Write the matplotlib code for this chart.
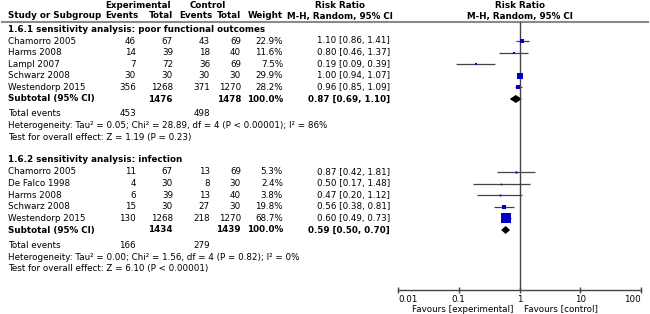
import matplotlib
matplotlib.use("Agg")
import matplotlib.pyplot as plt

# ---- data ----
sub_titles = ["1.6.1 sensitivity analysis: poor functional outcomes",
              "1.6.2 sensitivity analysis: infection"]

g1_study = ["Chamorro 2005", "Harms 2008", "Lampl 2007", "Schwarz 2008", "Westendorp 2015"]
g1_exp_events = [46, 14, 7, 30, 356]
g1_exp_total = [67, 39, 72, 30, 1268]
g1_ctl_events = [43, 18, 36, 30, 371]
g1_ctl_total = [69, 40, 69, 30, 1270]
g1_weight = [22.9, 11.6, 7.5, 29.9, 28.2]
g1_rr = [1.10, 0.80, 0.19, 1.00, 0.96]
g1_lo = [0.86, 0.46, 0.09, 0.94, 0.85]
g1_hi = [1.41, 1.37, 0.39, 1.07, 1.09]
g1_sub = dict(exp_total=1476, ctl_total=1478, rr=0.87, lo=0.69, hi=1.10,
              exp_events=453, ctl_events=498)
g1_het = "Heterogeneity: Tau² = 0.05; Chi² = 28.89, df = 4 (P < 0.00001); I² = 86%"
g1_test = "Test for overall effect: Z = 1.19 (P = 0.23)"

g2_study = ["Chamorro 2005", "De Falco 1998", "Harms 2008", "Schwarz 2008", "Westendorp 2015"]
g2_exp_events = [11, 4, 6, 15, 130]
g2_exp_total = [67, 30, 39, 30, 1268]
g2_ctl_events = [13, 8, 13, 27, 218]
g2_ctl_total = [69, 30, 40, 30, 1270]
g2_weight = [5.3, 2.4, 3.8, 19.8, 68.7]
g2_rr = [0.87, 0.50, 0.47, 0.56, 0.60]
g2_lo = [0.42, 0.17, 0.20, 0.38, 0.49]
g2_hi = [1.81, 1.48, 1.12, 0.81, 0.73]
g2_sub = dict(exp_total=1434, ctl_total=1439, rr=0.59, lo=0.50, hi=0.70,
              exp_events=166, ctl_events=279)
g2_het = "Heterogeneity: Tau² = 0.00; Chi² = 1.56, df = 4 (P = 0.82); I² = 0%"
g2_test = "Test for overall effect: Z = 6.10 (P < 0.00001)"

axis_ticks = [0.01, 0.1, 1, 10, 100]
axis_labels = ["0.01", "0.1", "1", "10", "100"]

groups = [
    (g1_study, g1_exp_events, g1_exp_total, g1_ctl_events, g1_ctl_total,
     g1_weight, g1_rr, g1_lo, g1_hi, g1_sub, g1_het, g1_test),
    (g2_study, g2_exp_events, g2_exp_total, g2_ctl_events, g2_ctl_total,
     g2_weight, g2_rr, g2_lo, g2_hi, g2_sub, g2_het, g2_test),
]

# ---- layout (pixel coordinates of a 650x314 canvas) ----
plt.rcParams["font.family"] = ["DejaVu Sans"]
FS = 6.3
W, H = 650, 314
BLUE = "#0000c8"
LINE = "#444444"

X_NAME, X_EEV, X_ETOT, X_CEV, X_CTOT, X_WT, X_RR = 8, 136, 173, 210, 241, 283, 390
AX_L, AX_R, AX_TOP, AX_BOT = 398, 641, 21.5, 290
GROUP_TOP = [29, 160]
PITCH = 11.6

fig = plt.figure(figsize=(W / 100, H / 100), dpi=100)
tab = fig.add_axes([0, 0, 1, 1])
tab.set_xlim(0, W)
tab.set_ylim(H, 0)
tab.axis("off")

fa = fig.add_axes([AX_L / W, (H - AX_BOT) / H, (AX_R - AX_L) / W, (AX_BOT - AX_TOP) / H])
fa.set_xscale("log")
fa.set_xlim(0.01, 100)
fa.set_ylim(AX_BOT, AX_TOP)
fa.patch.set_alpha(0)
for s in ["top", "right", "left"]:
    fa.spines[s].set_visible(False)
fa.spines["bottom"].set_color(LINE)
fa.spines["bottom"].set_linewidth(1)
fa.set_yticks([])
fa.set_xticks(axis_ticks)
fa.set_xticklabels(axis_labels)
fa.minorticks_off()
fa.tick_params(axis="x", direction="inout", length=5, width=1, color=LINE,
               labelsize=FS, pad=1)
lbls = fa.get_xticklabels()
lbls[0].set_ha("left")
lbls[-1].set_ha("right")
fa.axvline(1, color=LINE, lw=1)


def txt(x, y, s, ha="left", bold=False):
    tab.text(x, y, s, ha=ha, va="center", fontsize=FS,
             fontweight="bold" if bold else "normal", color="black")


# headers
txt(138, 5, "Experimental", "center", True)
txt(208, 5, "Control", "center", True)
txt(340, 5, "Risk Ratio", "center", True)
txt(520, 5, "Risk Ratio", "center", True)
txt(X_NAME, 16, "Study or Subgroup", "left", True)
txt(138, 16, "Events", "right", True)
txt(X_ETOT, 16, "Total", "right", True)
txt(212, 16, "Events", "right", True)
txt(X_CTOT, 16, "Total", "right", True)
txt(X_WT, 16, "Weight", "right", True)
txt(340, 16, "M-H, Random, 95% CI", "center", True)
txt(520, 16, "M-H, Random, 95% CI", "center", True)
tab.plot([2, 648], [AX_TOP, AX_TOP], color="#8a8a8a", lw=1.5)

for gi, (study, eev, etot, cev, ctot, wt, rr, lo, hi, sub, het, test) in enumerate(groups):
    y0 = GROUP_TOP[gi]
    txt(X_NAME, y0, sub_titles[gi], bold=True)
    for i in range(len(study)):
        y = y0 + 12 + i * PITCH
        txt(X_NAME, y, study[i])
        txt(X_EEV, y, str(eev[i]), "right")
        txt(X_ETOT, y, str(etot[i]), "right")
        txt(X_CEV, y, str(cev[i]), "right")
        txt(X_CTOT, y, str(ctot[i]), "right")
        txt(X_WT, y, f"{wt[i]:.1f}%", "right")
        txt(X_RR, y, f"{rr[i]:.2f} [{lo[i]:.2f}, {hi[i]:.2f}]", "right")
        fa.plot([lo[i], hi[i]], [y, y], color=LINE, lw=0.9, solid_capstyle="butt")
        side = 1.3 + 0.127 * wt[i]
        fa.plot([rr[i]], [y], marker="s", ms=side * 0.72, color=BLUE, mec=BLUE,
                mew=0, ls="none")
    ys = y0 + 12 + len(study) * PITCH
    txt(X_NAME, ys, "Subtotal (95% CI)", bold=True)
    txt(X_ETOT, ys, str(sub["exp_total"]), "right", True)
    txt(X_CTOT, ys, str(sub["ctl_total"]), "right", True)
    txt(X_WT, ys, "100.0%", "right", True)
    txt(X_RR, ys, f"{sub['rr']:.2f} [{sub['lo']:.2f}, {sub['hi']:.2f}]", "right", True)
    fa.fill([sub["lo"], sub["rr"], sub["hi"], sub["rr"]], [ys, ys - 4, ys, ys + 4],
            color="black", lw=0)
    yt = ys + 15
    txt(X_NAME, yt, "Total events")
    txt(X_EEV, yt, str(sub["exp_events"]), "right")
    txt(X_CEV, yt, str(sub["ctl_events"]), "right")
    txt(X_NAME, yt + 12, het)
    txt(X_NAME, yt + 23.5, test)

txt(514, 309, "Favours [experimental]", "right")
txt(524, 309, "Favours [control]", "left")

fig.savefig("out.png", dpi=100)
